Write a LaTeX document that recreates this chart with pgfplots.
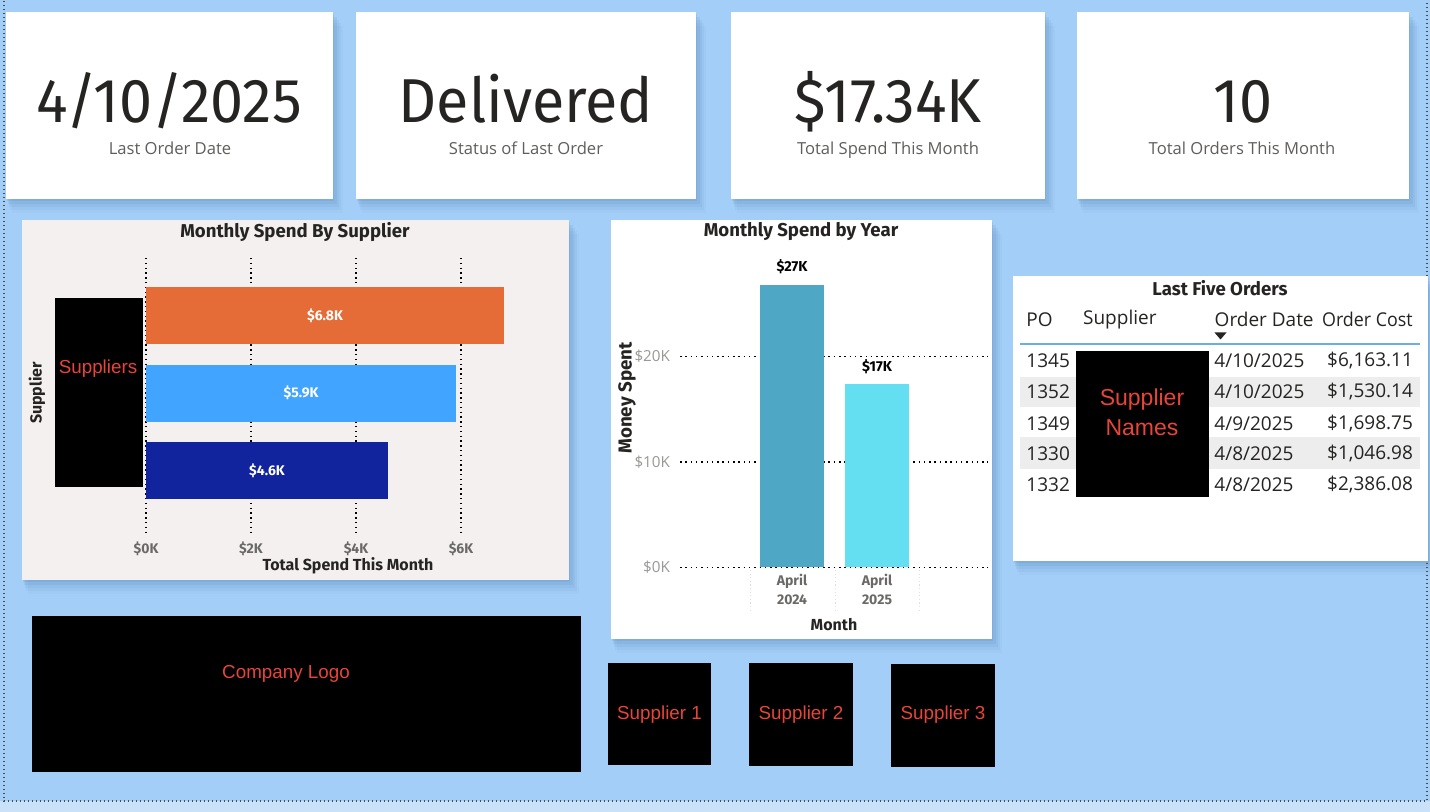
\documentclass[border=0pt]{standalone}
\usepackage{fontspec}
\usepackage{pgfplots}
\pgfplotsset{compat=1.18}
\setmainfont{Open Sans}
\newfontfamily\din{Fira Sans}
\newfontfamily\arial{Liberation Sans}
\definecolor{bg}{HTML}{A3CEF8}
\definecolor{bglight}{HTML}{C9E2FA}
\definecolor{shadowc}{HTML}{3F6FA8}
\definecolor{txt}{HTML}{252423}
\definecolor{subtxt}{HTML}{605E5C}
\definecolor{tickgray}{HTML}{6B6967}
\definecolor{lightgray}{HTML}{9A9896}
\definecolor{cardgray}{HTML}{F4F0F0}
\definecolor{redtxt}{HTML}{E8443A}
\definecolor{orangeb}{HTML}{E66C37}
\definecolor{blueb}{HTML}{41A4FF}
\definecolor{navyb}{HTML}{12239E}
\definecolor{tealb}{HTML}{4EA7C4}
\definecolor{cyanb}{HTML}{64DFF2}
\definecolor{rowgray}{HTML}{EDEDED}
\definecolor{lineblue}{HTML}{6AAFE0}
\newcommand{\card}[5][white]{%
  \foreach \s/\o in {14/0.04,11/0.06,8/0.08,5/0.10,2/0.12}{%
    \fill[shadowc,opacity=\o] (#2+\s*0.4,#3+\s) rectangle (#4+\s*0.7,#5+\s);}%
  \fill[#1] (#2,#3) rectangle (#4,#5);}
\newcommand\kpi{\din\fontsize{31}{31}\selectfont}
\newcommand\sub{\fontsize{8.3}{9}\selectfont}
\newcommand\ttl{\din\bfseries\fontsize{9.3}{10}\selectfont}
\newcommand\atl{\din\bfseries\fontsize{8}{9}\selectfont}
\newcommand\tbl{\fontsize{9.5}{10}\selectfont}
\newcommand\red{\arial\fontsize{9.4}{11}\selectfont}
\newcommand\knum[1]{\scalebox{0.955}[1]{#1}}
\begin{document}
\begin{tikzpicture}
\begin{scope}[x=0.5pt,y=-0.5pt]
\useasboundingbox (0,0) rectangle (1430,812);
\fill[bglight] (0,0) rectangle (1430,812);
\fill[bg] (0,0) rectangle (1430,801);
\draw[gray!60!black, line width=0.6pt, dash pattern=on 0.6pt off 1.4pt] (4,1) -- (4,801) -- (1427,801) -- (1427,1);
% KPI cards
\card{6}{12}{333}{199}
\card{356}{12}{696}{199}
\card{731}{12}{1045}{199}
\card{1077}{12}{1409}{199}
\node[anchor=base, text=txt, font=\kpi, inner sep=0] at (169,122.7) {\knum{4/10/2025}};
\node[anchor=base, text=txt, font=\kpi, inner sep=0] at (526,122.7) {\knum{Delivered}};
\node[anchor=base, text=txt, font=\kpi, inner sep=0] at (888,122.7) {\knum{\$17.34K}};
\node[anchor=base, text=txt, font=\kpi, inner sep=0] at (1243,122.7) {\knum{10}};
\node[anchor=base, text=subtxt, font=\sub, inner sep=0] at (170,155) {Last Order Date};
\node[anchor=base, text=subtxt, font=\sub, inner sep=0] at (526,155) {Status of Last Order};
\node[anchor=base, text=subtxt, font=\sub, inner sep=0] at (888,155) {Total Spend This Month};
\node[anchor=base, text=subtxt, font=\sub, inner sep=0] at (1242,155) {Total Orders This Month};
% chart cards
\card[cardgray]{22}{220}{569}{580}
\card{611}{220}{992}{639}
\card{1013}{276}{1428}{561}
\node[text=txt, font=\ttl] at (295,232) {Monthly Spend By Supplier};
\node[text=txt, font=\ttl] at (801,232) {Monthly Spend by Year};
\node[text=txt, font=\ttl] at (1220,288) {Last Five Orders};
\end{scope}

% ---------- Monthly Spend By Supplier ----------
\begin{axis}[
  at={(73pt,-129pt)}, anchor=north west,
  scale only axis, width=189pt, height=137.5pt,
  xmin=0, xmax=7.2, ymin=-0.742, ymax=2.806, y dir=reverse,
  xbar, bar shift=0pt, bar width=0.735,
  axis line style={draw=none}, major tick length=0pt,
  xtick={0,2,4,6}, xticklabels={\$0K,\$2K,\$4K,\$6K},
  ytick=\empty,
  xmajorgrids, grid style={black, line width=0.7pt, dash pattern=on 0.7pt off 1.7pt},
  x tick label style={font=\din\bfseries\fontsize{7}{7}\selectfont, text=tickgray, yshift=-1pt},
  clip=false,
]
\addplot[fill=orangeb, draw=none] coordinates {(6.82,0)};
\addplot[fill=blueb, draw=none] coordinates {(5.91,1)};
\addplot[fill=navyb, draw=none] coordinates {(4.61,2)};
\node[text=white, font=\din\bfseries\fontsize{7}{7}\selectfont] at (axis cs:3.41,0) {\$6.8K};
\node[text=white, font=\din\bfseries\fontsize{7}{7}\selectfont] at (axis cs:2.955,1) {\$5.9K};
\node[text=white, font=\din\bfseries\fontsize{7}{7}\selectfont] at (axis cs:2.305,2) {\$4.6K};
\end{axis}

% ---------- Monthly Spend by Year ----------
\begin{axis}[
  at={(340pt,-283.65pt)}, anchor=south west,
  scale only axis, width=154pt, height=155.5pt,
  xmin=-1.318, xmax=2.306, ymin=0, ymax=29.5,
  ybar, bar shift=0pt, bar width=0.753,
  axis line style={draw=none}, major tick length=0pt,
  ytick={0,10,20}, yticklabels={\$0K,\$10K,\$20K},
  xtick={0,1}, xticklabels={April\\2024,April\\2025},
  ymajorgrids, grid style={black, line width=0.75pt, dash pattern=on 0.75pt off 1.9pt},
  y tick label style={font=\fontsize{7.6}{8}\selectfont, text=lightgray, xshift=-1.5pt},
  x tick label style={font=\din\bfseries\fontsize{7}{9.6}\selectfont, text=tickgray, align=center},
  nodes near coords, point meta=explicit symbolic,
  every node near coord/.append style={font=\din\bfseries\fontsize{7.2}{8}\selectfont, text=black, yshift=2pt},
  clip=false,
]
\addplot[fill=tealb, draw=none] coordinates {(0,26.8) [\$27K]};
\addplot[fill=cyanb, draw=none] coordinates {(1,17.34) [\$17K]};
\end{axis}

\begin{scope}[x=0.5pt,y=-0.5pt]
% bar chart extras
\node[text=txt, font=\atl] at (348,566) {Total Spend This Month};
\node[text=txt, font=\atl, rotate=90] at (37,393) {Supplier};
\fill[black] (55,298) rectangle (143,487);
\node[text=redtxt, font=\red] at (98,369) {Suppliers};
% column chart extras
\foreach \xx in {750,835,919}{\draw[gray!25, line width=0.5pt, dash pattern=on 0.6pt off 1.2pt] (\xx,570) -- (\xx,612);}
\node[text=txt, font=\atl] at (834,625) {Month};
\node[text=txt, font=\din\bfseries\fontsize{9.4}{10}\selectfont, rotate=90] at (627,398) {Money Spent};
% table
\fill[rowgray] (1020,376.7) rectangle (1420,406.7);
\fill[rowgray] (1020,437.3) rectangle (1420,469.3);
\draw[lineblue, line width=1pt] (1020,344) -- (1420,344);
\node[anchor=west, text=txt, font=\tbl, inner sep=0] at (1026,319.3) {PO};
\node[anchor=west, text=txt, font=\tbl, inner sep=0] at (1082.7,319.3) {Supplier};
\node[anchor=west, text=txt, font=\tbl, inner sep=0] at (1214.3,319.3) {Order Date};
\node[anchor=west, text=txt, font=\tbl, inner sep=0] at (1321.7,319.3) {\scalebox{0.94}[1]{Order Cost}};
\fill[txt] (1214.5,332.5) -- (1226.5,332.5) -- (1220.5,339.5) -- cycle;
\foreach \yy/\po/\dt/\cst in {360.7/1345/4\slash 10\slash 2025/\$6{,}163.11,
    392/1352/4\slash 10\slash 2025/\$1{,}530.14,
    423.3/1349/4\slash 9\slash 2025/\$1{,}698.75,
    453.3/1330/4\slash 8\slash 2025/\$1{,}046.98,
    485/1332/4\slash 8\slash 2025/\$2{,}386.08}{%
  \node[anchor=west, text=txt, font=\tbl, inner sep=0] at (1026,\yy) {\po};
  \node[anchor=west, text=txt, font=\tbl, inner sep=0] at (1214,\yy) {\dt};
  \node[anchor=east, text=txt, font=\tbl, inner sep=0] at (1413.3,\yy) {\cst};
}
\fill[black] (1075.7,351) rectangle (1208.7,496.7);
\node[text=redtxt, font=\arial\fontsize{11.5}{15}\selectfont, align=center] at (1142,412) {Supplier\\Names};
% logo and supplier boxes
\fill[black] (32,616) rectangle (581,772);
\node[text=redtxt, font=\red] at (286,674) {Company Logo};
\fill[black] (608,663) rectangle (711,765);
\fill[black] (749,663) rectangle (853,766);
\fill[black] (891,664) rectangle (995,767);
\node[text=redtxt, font=\red] at (659.5,715) {Supplier 1};
\node[text=redtxt, font=\red] at (801,715) {Supplier 2};
\node[text=redtxt, font=\red] at (943,715) {Supplier 3};
\end{scope}
\end{tikzpicture}
\end{document}
